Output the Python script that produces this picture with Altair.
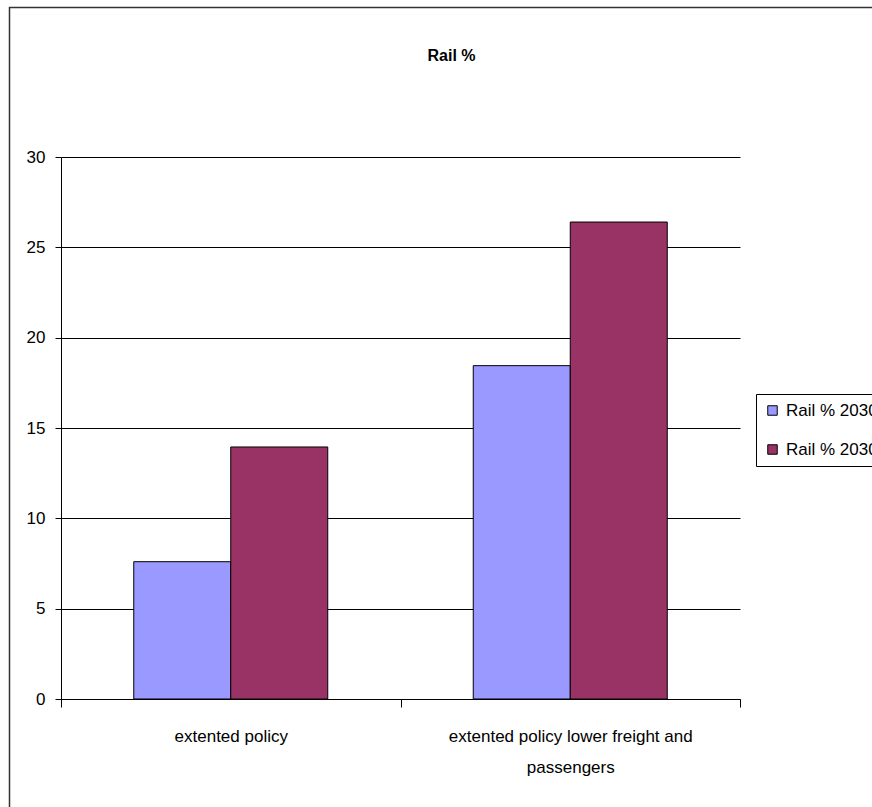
import altair as alt
import pandas as pd

# ---- data ----
categories = ["extented policy", "extented policy lower freight and passengers"]
category_label_lines = [["extented policy"], ["extented policy lower freight and", "passengers"]]
series_keys = ["s0", "s1"]
series_names = ["Rail % 2030", "Rail % 2030"]
series_colors = ["#9999FF", "#993366"]
values_s0 = [7.6, 18.45]
values_s1 = [13.95, 26.4]
y_ticks = [0, 5, 10, 15, 20, 25, 30]
title_text = "Rail %"

rows = []
for key, vals in zip(series_keys, [values_s0, values_s1]):
    for cat, v in zip(categories, vals):
        rows.append({"category": cat, "series": key, "value": v})
df = pd.DataFrame(rows)

FONT = "Liberation Sans"

# multi-line x labels
parts = []
for cat, lines in zip(categories, category_label_lines):
    arr = "[" + ",".join("'" + l + "'" for l in lines) + "]"
    parts.append(f"datum.value == '{cat}' ? {arr} : ")
x_label_expr = "".join(parts) + "datum.value"

legend_label_expr = (
    "[" + ",".join("'" + n + "'" for n in series_names) + "]"
    + "[indexof([" + ",".join("'" + k + "'" for k in series_keys) + "], datum.value)]"
)

W, H = 679, 542
LEFT, TOP = 61, 157
PAGE_W, PAGE_H = 872, 807

bars = alt.Chart(df).mark_bar(stroke="black", strokeWidth=1).encode(
    x=alt.X(
        "category:N",
        sort=categories,
        scale=alt.Scale(paddingInner=0, paddingOuter=0),
        axis=alt.Axis(
            title=None,
            labelAngle=0,
            tickBand="extent",
            tickSize=8,
            tickColor="black",
            domainColor="black",
            labelFont=FONT,
            labelFontSize=17,
            labelColor="black",
            labelPadding=21,
            labelLineHeight=31,
            labelLimit=0,
            labelExpr=x_label_expr,
            grid=False,
        ),
    ),
    xOffset=alt.XOffset(
        "series:N", sort=series_keys, scale=alt.Scale(paddingInner=0, paddingOuter=0.75)
    ),
    y=alt.Y(
        "value:Q",
        scale=alt.Scale(domain=[0, 30], nice=False),
        axis=alt.Axis(
            title=None,
            values=y_ticks,
            tickSize=6,
            tickColor="black",
            domainColor="black",
            grid=True,
            gridColor="black",
            gridWidth=1,
            labelFont=FONT,
            labelFontSize=17,
            labelColor="black",
            labelPadding=10,
        ),
    ),
    color=alt.Color(
        "series:N",
        scale=alt.Scale(domain=series_keys, range=series_colors),
        legend=alt.Legend(
            title=None,
            orient="none",
            legendX=756 - LEFT,
            legendY=394 - TOP,
            padding=8,
            strokeColor="black",
            fillColor="white",
            symbolType="square",
            symbolSize=90,
            symbolStrokeColor="black",
            symbolStrokeWidth=1,
            labelFont=FONT,
            labelFontSize=17,
            labelColor="black",
            labelOffset=5,
            rowPadding=21,
            labelLimit=0,
            labelExpr=legend_label_expr,
        ),
    ),
)

frame = alt.Chart(alt.Data(values=[{"f": 1}])).mark_rect(
    fill=None, stroke="#333333", strokeWidth=1.5
).encode(
    x=alt.value(9.5 - LEFT),
    x2=alt.value(894.5 - LEFT),
    y=alt.value(7.5 - TOP),
    y2=alt.value(830 - TOP),
)

chart = alt.layer(frame, bars).properties(
    width=W,
    height=H,
    title=alt.TitleParams(
        text=title_text,
        font=FONT,
        fontSize=16,
        fontWeight="bold",
        color="black",
        anchor="middle",
        dx=51,
        offset=-57,
    ),
    autosize=alt.AutoSizeParams(type="none"),
    padding={"left": LEFT, "top": TOP, "right": PAGE_W - LEFT - W, "bottom": PAGE_H - TOP - H},
    background="white",
).configure_view(stroke=None)

chart.save("out.html", embed_options={"renderer": "svg", "actions": False})
